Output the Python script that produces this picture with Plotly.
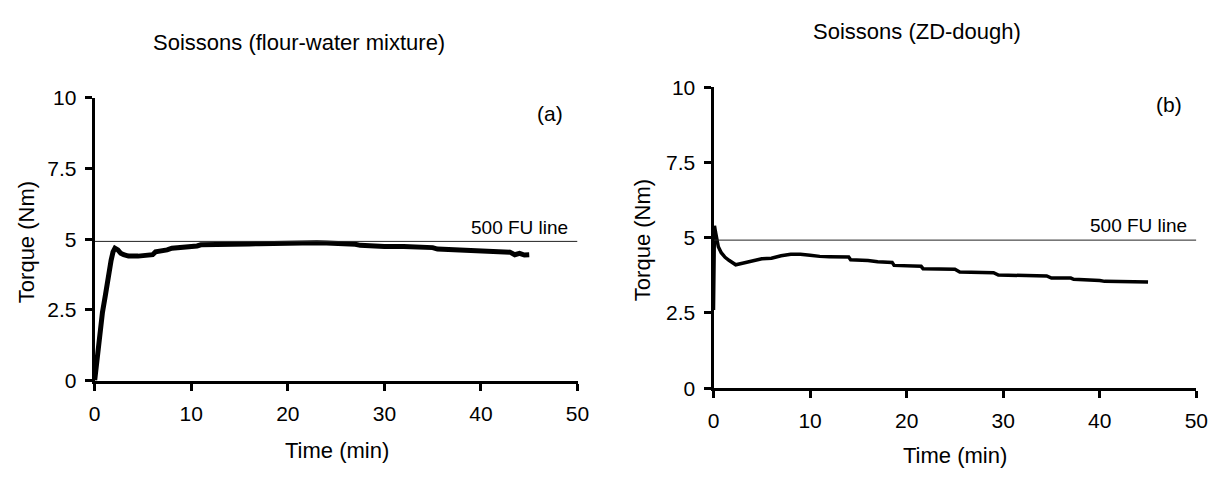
import plotly.graph_objects as go

# ---- data ----
time_a = [0, 0.2, 0.5, 0.8, 1.1, 1.4, 1.7, 1.9, 2.1, 2.4,
          2.7, 3.0, 3.5, 4.5, 5.5, 6.0, 6.3, 7.0, 7.5, 8.0,
          9, 10, 10.6, 11, 12, 13, 14, 15, 16, 17,
          18, 19, 20, 21, 22, 23, 24, 25, 26, 27,
          27.5, 28.5, 30, 32, 34, 35, 35.5, 37, 38, 39,
          40, 41, 42, 43, 43.5, 44, 44.5, 45]
torque_a = [0, 0.7, 1.6, 2.4, 3.0, 3.7, 4.25, 4.55, 4.68, 4.62,
            4.5, 4.45, 4.4, 4.4, 4.41, 4.45, 4.55, 4.57, 4.62, 4.68,
            4.7, 4.72, 4.76, 4.8, 4.8, 4.79, 4.82, 4.81, 4.83, 4.84,
            4.85, 4.87, 4.88, 4.87, 4.86, 4.87, 4.86, 4.85, 4.84, 4.82,
            4.78, 4.76, 4.74, 4.74, 4.73, 4.7, 4.65, 4.63, 4.58, 4.57,
            4.56, 4.55, 4.55, 4.54, 4.45, 4.5, 4.44, 4.45]

time_b = [0, 0.02, 0.1, 0.2, 0.35, 0.5, 0.8, 1.2, 1.6, 2.0,
          2.3, 3, 4, 5, 6, 7, 8, 9, 10, 11,
          12, 13, 14, 14.2, 15, 16, 17, 18.5, 18.7, 20,
          21.5, 21.7, 23, 25, 25.5, 27, 29, 29.5, 31, 33,
          34.5, 35, 37, 37.3, 39, 40, 40.5, 42, 44, 45]
torque_b = [2.6, 4.9, 5.4, 5.2, 4.9, 4.7, 4.5, 4.35, 4.25, 4.15,
            4.1, 4.15, 4.22, 4.3, 4.32, 4.4, 4.45, 4.45, 4.42, 4.38,
            4.37, 4.36, 4.36, 4.27, 4.26, 4.24, 4.2, 4.18, 4.08, 4.07,
            4.05, 3.97, 3.96, 3.95, 3.86, 3.85, 3.84, 3.76, 3.75, 3.74,
            3.73, 3.66, 3.66, 3.62, 3.6, 3.58, 3.55, 3.55, 3.54, 3.53]

fu_line = 4.92
x_ticks = [0, 10, 20, 30, 40, 50]
y_ticks = [0, 2.5, 5, 7.5, 10]
y_tick_text = ["0", "2.5", "5", "7.5", "10"]
titles = ["Soissons (flour-water mixture)", "Soissons (ZD-dough)"]
panel_labels = ["(a)", "(b)"]

W, H = 1231, 483
FONT = "Liberation Sans, Arial, sans-serif"

fig = go.Figure()

fig.add_trace(go.Scatter(x=time_a, y=torque_a, mode="lines", line=dict(color="black", width=5),
                         xaxis="x", yaxis="y", showlegend=False, hoverinfo="skip"))
fig.add_trace(go.Scatter(x=time_b, y=torque_b, mode="lines", line=dict(color="black", width=3.5),
                         xaxis="x2", yaxis="y2", showlegend=False, hoverinfo="skip"))
# 500 FU lines
for xa, ya in (("x", "y"), ("x2", "y2")):
    fig.add_trace(go.Scatter(x=[0, 50], y=[fu_line, fu_line], mode="lines",
                             line=dict(color="#222222", width=1), xaxis=xa, yaxis=ya,
                             showlegend=False, hoverinfo="skip"))

def px_x(p):
    return p / W

def px_y(p):
    return 1 - p / H

xaxis_common = dict(range=[0, 50], tickvals=x_ticks, showline=True, linecolor="black", linewidth=3,
                    ticks="outside", ticklen=7, tickwidth=2.5, tickcolor="black", showgrid=False,
                    zeroline=False, ticklabelstandoff=5,
                    tickfont=dict(family=FONT, size=21, color="black"), fixedrange=True)
yaxis_common = dict(range=[0, 10], tickvals=y_ticks, ticktext=y_tick_text, showline=True,
                    linecolor="black", linewidth=3, ticks="outside", ticklen=7, tickwidth=2.5,
                    tickcolor="black", showgrid=False, zeroline=False, ticklabelstandoff=4,
                    tickfont=dict(family=FONT, size=21, color="black"), fixedrange=True)

fig.update_layout(
    width=W, height=H, margin=dict(l=0, r=0, t=0, b=0),
    paper_bgcolor="white", plot_bgcolor="white",
    xaxis=dict(domain=[px_x(90), px_x(580)], anchor="y", **xaxis_common),
    yaxis=dict(domain=[px_y(387), px_y(90)], anchor="x", **yaxis_common),
    xaxis2=dict(domain=[px_x(718), px_x(1208)], anchor="y2", **xaxis_common),
    yaxis2=dict(domain=[px_y(395), px_y(79)], anchor="x2", **yaxis_common),
)

ann = []
def add_text(text, cx, cy, size=22, angle=0):
    ann.append(dict(text=text, x=px_x(cx), y=px_y(cy), xref="paper", yref="paper",
                    xanchor="center", yanchor="middle", textangle=angle, showarrow=False,
                    font=dict(family=FONT, size=size, color="black")))

# titles
add_text(titles[0], 297, 32)
add_text(titles[1], 925, 20)
# axis titles
add_text("Torque (Nm)", 21, 242, angle=-90)
add_text("Torque (Nm)", 646, 240, angle=-90)
add_text("Time (min)", 336, 460)
add_text("Time (min)", 963, 466)
# panel labels and FU line labels
for i, (xa, ya) in enumerate((("x", "y"), ("x2", "y2"))):
    ann.append(dict(text=panel_labels[i], x=47.2, y=9.43, xref=xa, yref=ya, showarrow=False,
                    xanchor="center", yanchor="middle",
                    font=dict(family=FONT, size=21, color="black")))
    ann.append(dict(text="500 FU line", x=49.2, y=5.4, xref=xa, yref=ya, xanchor="right",
                    yanchor="middle", showarrow=False,
                    font=dict(family=FONT, size=19, color="black")))

fig.update_layout(annotations=ann)
fig.write_html("out.html")
